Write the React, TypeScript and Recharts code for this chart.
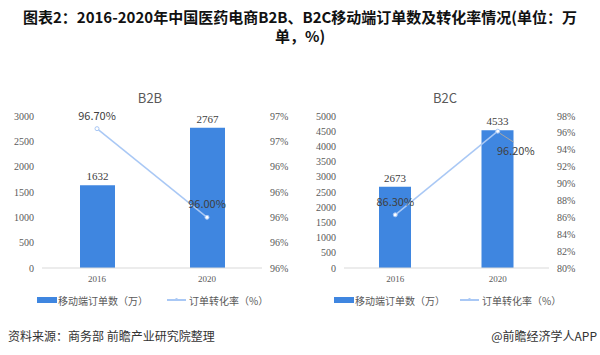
import React from 'react';
import { ComposedChart, Bar, Line, XAxis, YAxis, LabelList } from 'recharts';

const years = ['2016', '2020'];
const b2bOrders = [1632, 2767];
const b2bRate = [96.7, 96.0];
const b2cOrders = [2673, 4533];
const b2cRate = [86.3, 96.2];

const b2bLeftTicks = [0, 500, 1000, 1500, 2000, 2500, 3000];
const b2bRightTicks = [95.6, 95.8, 96.0, 96.2, 96.4, 96.6, 96.8];
const b2cLeftTicks = [0, 500, 1000, 1500, 2000, 2500, 3000, 3500, 4000, 4500, 5000];
const b2cRightTicks = [80, 82, 84, 86, 88, 90, 92, 94, 96, 98];

const BAR = '#3F86E0';
const LINE = '#A9C8F5';
const TICK = '#595959';
const LABEL = '#404040';
const CJK = "'Noto Sans CJK SC', 'Liberation Sans', sans-serif";

interface PanelProps {
  title: string;
  titleX: number;
  orders: number[];
  rate: number[];
  leftTicks: number[];
  rightTicks: number[];
  left: number;
  marginLeft: number;
  leftWidth: number;
  rightWidth: number;
  barSize: number;
  calloutIndex?: number;
}

const Panel: React.FC<PanelProps> = (p) => {
  const data = years.map((y, i) => ({ year: y, orders: p.orders[i], rate: p.rate[i] }));
  const rateLabel = (props: any) => {
    const { x, y, value, index } = props;
    const txt = `${Number(value).toFixed(2)}%`;
    if (index === p.calloutIndex) {
      return (
        <g key={`rl-${index}`}>
          <line x1={x + 2} y1={y + 2} x2={x + 16} y2={y + 11} stroke="#A6A6A6" strokeWidth={1} />
          <text x={x + 18} y={y + 24} textAnchor="middle" fontSize={11} fill={LABEL} fontFamily={CJK}>{txt}</text>
        </g>
      );
    }
    return (
      <text key={`rl-${index}`} x={x} y={y - 9} textAnchor="middle" fontSize={11} fill={LABEL} fontFamily={CJK}>{txt}</text>
    );
  };
  const r0 = p.rightTicks[0];
  const r1 = p.rightTicks[p.rightTicks.length - 1];
  return (
    <div style={{ position: 'absolute', left: p.left, top: 0, width: 300, height: 298 }}>
      <div style={{ position: 'absolute', left: p.titleX - 50, width: 100, top: 88, textAlign: 'center', fontSize: 13, color: TICK, fontFamily: CJK }}>
        {p.title}
      </div>
      <ComposedChart width={300} height={298} data={data} margin={{ top: 116, right: 0, bottom: 0, left: p.marginLeft }}>
        <XAxis dataKey="year" axisLine={{ stroke: '#D9D9D9' }} tickLine={false} tick={{ fontSize: 9, fill: TICK }} height={30} />
        <YAxis yAxisId="l" orientation="left" domain={[0, p.leftTicks[p.leftTicks.length - 1]]} ticks={p.leftTicks} width={p.leftWidth} axisLine={false} tickLine={false} tick={{ fontSize: 10, fill: TICK }} interval={0} />
        <YAxis yAxisId="r" orientation="right" domain={[r0, r1]} ticks={p.rightTicks} width={p.rightWidth} axisLine={false} tickLine={false} tick={{ fontSize: 10, fill: TICK }} interval={0} tickFormatter={(v: number) => `${Math.round(v)}%`} />
        <Bar yAxisId="l" dataKey="orders" fill={BAR} barSize={p.barSize} isAnimationActive={false}>
          <LabelList dataKey="orders" position="top" fontSize={11} fill={LABEL} />
        </Bar>
        <Line yAxisId="r" dataKey="rate" stroke={LINE} strokeWidth={1.5} dot={{ r: 2, fill: '#FFFFFF', stroke: LINE, strokeWidth: 1 }} isAnimationActive={false}>
          <LabelList dataKey="rate" content={rateLabel} />
        </Line>
      </ComposedChart>
    </div>
  );
};

const LegendRow: React.FC<{ left: number; lineLeft: number }> = ({ left, lineLeft }) => (
  <>
    <div style={{ position: 'absolute', left, top: 297, width: 20, height: 6, background: BAR }} />
    <div style={{ position: 'absolute', left: left + 21, top: 293, fontSize: 10, color: TICK, fontFamily: CJK, whiteSpace: 'nowrap' }}>移动端订单数（万）</div>
    <div style={{ position: 'absolute', left: lineLeft, top: 299, width: 19, height: 1.5, background: LINE }} />
    <div style={{ position: 'absolute', left: lineLeft + 8, top: 298, width: 3, height: 3, borderRadius: 2, background: LINE }} />
    <div style={{ position: 'absolute', left: lineLeft + 22, top: 293, fontSize: 10, color: TICK, fontFamily: CJK, whiteSpace: 'nowrap' }}>订单转化率（%）</div>
  </>
);

export default function App() {
  return (
    <div style={{ position: 'fixed', left: 0, top: 0, width: 600, height: 355, background: '#fff', overflow: 'hidden' }}>
      <div style={{ position: 'absolute', left: 0, top: 7, width: 600, textAlign: 'center', fontSize: 15, lineHeight: '19px', fontWeight: 'bold', color: '#111', fontFamily: "'Liberation Sans Narrow', 'Noto Sans CJK SC', sans-serif" }}>
        图表2：2016-2020年中国医药电商B2B、B2C移动端订单数及转化率情况(单位：万<br />单，%)
      </div>
      <Panel title="B2B" titleX={150} orders={b2bOrders} rate={b2bRate} leftTicks={b2bLeftTicks} rightTicks={b2bRightTicks} left={0} marginLeft={0} leftWidth={42} rightWidth={38} barSize={35} />
      <Panel title="B2C" titleX={145} orders={b2cOrders} rate={b2cRate} leftTicks={b2cLeftTicks} rightTicks={b2cRightTicks} left={300} marginLeft={2} leftWidth={42} rightWidth={51} barSize={32} calloutIndex={1} />
      <LegendRow left={37} lineLeft={167} />
      <LegendRow left={334} lineLeft={460} />
      <div style={{ position: 'absolute', left: 8, top: 327, fontSize: 12, color: '#333', fontFamily: CJK }}>资料来源：商务部 前瞻产业研究院整理</div>
      <div style={{ position: 'absolute', right: 3, top: 327, fontSize: 12, color: '#333', fontFamily: CJK }}>@前瞻经济学人APP</div>
    </div>
  );
}
